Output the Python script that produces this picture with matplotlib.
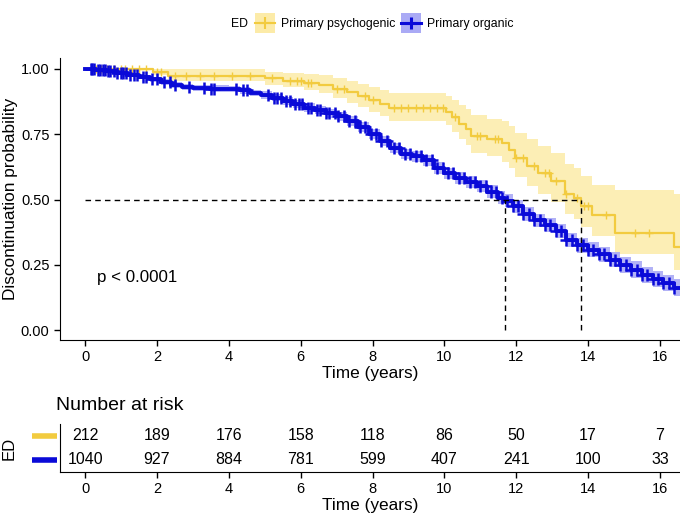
import numpy as np
import matplotlib
matplotlib.use("Agg")
import matplotlib.pyplot as plt
from matplotlib.lines import Line2D
from matplotlib.patches import Rectangle

plt.rcParams['font.family'] = ['Liberation Sans', 'DejaVu Sans']

# Primary psychogenic (yellow)
psy_t = [0, 1.9, 2.3, 5.0, 5.5, 6.1, 6.5, 6.9, 7.3, 7.6, 7.9, 8.2, 8.45, 10.05, 10.2, 10.4, 10.6,
         10.75, 11.2, 11.6, 11.8, 11.97, 12.3, 12.6, 12.96, 13.35, 13.6, 13.8, 14.1, 14.75, 16.4]
psy_s = [1.0, 0.99, 0.972, 0.965, 0.955, 0.948, 0.94, 0.925, 0.91, 0.895, 0.88, 0.865, 0.85, 0.835,
         0.815, 0.79, 0.77, 0.745, 0.73, 0.715, 0.69, 0.66, 0.63, 0.60, 0.57, 0.52, 0.505, 0.475,
         0.44, 0.37, 0.32]
psy_up = [1.0, 1.0, 1.0, 0.99, 0.985, 0.98, 0.975, 0.965, 0.955, 0.943, 0.932, 0.92, 0.908, 0.896,
          0.88, 0.862, 0.845, 0.825, 0.81, 0.80, 0.78, 0.755, 0.73, 0.705, 0.68, 0.635, 0.62, 0.59,
          0.555, 0.535, 0.52]
psy_lo = [1.0, 0.975, 0.955, 0.94, 0.93, 0.918, 0.908, 0.89, 0.87, 0.855, 0.835, 0.82, 0.8, 0.785,
          0.76, 0.73, 0.71, 0.68, 0.665, 0.645, 0.62, 0.585, 0.55, 0.52, 0.49, 0.445, 0.425, 0.395,
          0.36, 0.29, 0.23]
psy_cens = [0.3, 0.45, 0.6, 0.8, 1.0, 1.1, 1.3, 1.5, 1.7, 2.0, 2.1, 2.5, 2.8, 3.2, 3.6, 4.1, 4.6,
            5.2, 5.7, 5.9, 6.0, 6.2, 6.3, 7.0, 7.2, 7.8, 8.0, 8.6, 8.8, 9.0, 9.2, 9.4, 9.6, 9.8, 9.95,
            10.3, 10.9, 11.0, 11.4, 11.5, 12.0, 12.2, 12.5, 12.8, 12.9, 13.1, 13.4, 13.7, 13.9, 14.0,
            14.5, 15.3, 15.7]

# Primary organic (blue)
org_t = [0, 0.3, 0.6, 0.9, 1.2, 1.5, 1.8, 2.1, 2.4, 2.7, 3.0, 3.5, 4.0, 4.3, 4.6, 4.9, 5.2, 5.5,
         5.8, 6.1, 6.4, 6.7, 7.0, 7.3, 7.6, 7.9, 8.2, 8.5, 8.8, 9.1, 9.4, 9.7, 10.0, 10.3, 10.6,
         10.9, 11.2, 11.5, 11.7, 11.9, 12.2, 12.5, 12.8, 13.1, 13.4, 13.7, 14.0, 14.3, 14.6, 14.9,
         15.2, 15.5, 15.8, 16.1, 16.4]
org_s = [1.0, 0.997, 0.992, 0.986, 0.978, 0.97, 0.96, 0.95, 0.938, 0.93, 0.927, 0.925, 0.923,
         0.918, 0.908, 0.9, 0.89, 0.878, 0.865, 0.852, 0.842, 0.83, 0.818, 0.80, 0.778, 0.75,
         0.725, 0.697, 0.675, 0.665, 0.65, 0.62, 0.60, 0.583, 0.568, 0.552, 0.53, 0.506, 0.495,
         0.475, 0.445, 0.42, 0.403, 0.38, 0.345, 0.325, 0.308, 0.29, 0.27, 0.25, 0.232, 0.212, 0.196,
         0.18, 0.163]
org_hw = [0.0, 0.003, 0.005, 0.006, 0.007, 0.008, 0.009, 0.01, 0.011, 0.012, 0.012, 0.012, 0.012,
          0.013, 0.013, 0.014, 0.014, 0.015, 0.015, 0.016, 0.016, 0.017, 0.017, 0.018, 0.018, 0.019,
          0.019, 0.02, 0.02, 0.021, 0.021, 0.022, 0.022, 0.023, 0.023, 0.024, 0.024, 0.025, 0.025,
          0.025, 0.026, 0.026, 0.027, 0.027, 0.028, 0.028, 0.029, 0.029, 0.03, 0.03, 0.031, 0.031,
          0.032, 0.032, 0.033]
org_cens = [0.15, 0.2, 0.25, 0.35, 0.4, 0.5, 0.55, 0.65, 0.7, 0.8, 0.9, 1.0, 1.05, 1.15, 1.25, 1.35,
            1.45, 1.6, 1.7, 1.85, 2.0, 2.2, 2.35, 2.5, 2.9, 3.3, 3.5, 3.6, 4.2, 4.4, 4.5, 5.1, 5.25,
            5.35, 5.45, 5.6, 5.7, 5.85, 5.95, 6.05, 6.2, 6.3, 6.45, 6.55, 6.7, 6.8, 6.95, 7.05, 7.2,
            7.35, 7.5, 7.65, 7.8, 7.95, 8.1, 8.25, 8.4, 8.6, 8.75, 8.9, 9.05, 9.2, 9.35, 9.5, 9.65,
            9.8, 9.95, 10.1, 10.25, 10.4, 10.55, 10.7, 10.85, 11.0, 11.15, 11.3, 11.45, 11.6, 11.75,
            11.9, 12.05, 12.2, 12.35, 12.5, 12.65, 12.8, 12.95, 13.1, 13.25, 13.4, 13.55, 13.7,
            13.85, 14.0, 14.15, 14.3, 14.45, 14.6, 14.75, 14.9, 15.05, 15.2, 15.35, 15.5, 15.65,
            15.8, 15.95, 16.1, 16.25, 16.4]

medians = [11.7, 13.8]
risk_times = [0, 2, 4, 6, 8, 10, 12, 14, 16]
risk_psy = [212, 189, 176, 158, 118, 86, 50, 17, 7]
risk_org = [1040, 927, 884, 781, 599, 407, 241, 100, 33]

YEL = '#F2CB3F'
YEL_F = '#FCEBA8'
BLU = '#0A0AD8'
BLU_F = '#AAAAF5'

XMAX = 16.56
XMIN = -0.70


def step_val(ts, ss, x):
    idx = np.searchsorted(ts, x, side='right') - 1
    return np.asarray(ss)[idx]


fig = plt.figure(figsize=(6.8, 5.19), dpi=100)
ax = fig.add_axes([60 / 680, 1 - 340 / 519, 1 - 60 / 680, (340 - 58) / 519])

for ts, ss, lo, up, col, fcol, lw, cens in [
        (psy_t, psy_s, psy_lo, psy_up, YEL, YEL_F, 1.6, psy_cens),
        (org_t, org_s, np.array(org_s) - np.array(org_hw), np.array(org_s) + np.array(org_hw),
         BLU, BLU_F, 2.8, org_cens)]:
    tt = list(ts) + [XMAX + 0.2]
    ax.fill_between(tt, list(lo) + [lo[-1]], list(up) + [up[-1]], step='post', color=fcol,
                    lw=0, alpha=0.85 if col == YEL else 0.9)
    ax.step(tt, list(ss) + [ss[-1]], where='post', color=col, lw=lw)
    cy = step_val(ts, ss, np.array(cens))
    ax.plot(cens, cy, ls='none', marker='+', ms=6 if col == YEL else 8,
            mew=1.0 if col == YEL else 1.8, color=col)

ax.plot([0, medians[1]], [0.5, 0.5], color='black', lw=1, dashes=(4, 3))
for m in medians:
    ax.plot([m, m], [0, 0.5], color='black', lw=1, dashes=(4, 3))

ax.text(0.33, 0.2, 'p < 0.0001', fontsize=12.2, va='center', ha='left')

ax.set_xlim(XMIN, XMAX)
ax.set_ylim(-0.038, 1.042)
ax.set_xticks(risk_times)
ax.set_yticks([0, 0.25, 0.5, 0.75, 1.0])
ax.set_yticklabels(['0.00', '0.25', '0.50', '0.75', '1.00'])
ax.spines['top'].set_visible(False)
ax.spines['right'].set_visible(False)
ax.tick_params(labelsize=10.5, length=4, width=1, colors='black')
ax.set_xlabel('Time (years)', fontsize=12.4, labelpad=1)
ax.set_ylabel('Discontinuation probability', fontsize=12.4, labelpad=2)

# legend, drawn by hand in figure pixels
W, H = 680, 519
fig.text(231 / W, 1 - 24 / H, 'ED', fontsize=8.8, va='center', ha='left')
for (x0, x1, col, fcol, lw, label) in [(255, 275, YEL, YEL_F, 1.5, 'Primary psychogenic'),
                                        (401, 421, BLU, BLU_F, 2.2, 'Primary organic')]:
    fig.add_artist(Rectangle((x0 / W, 1 - 33 / H), (x1 - x0) / W, 20 / H, transform=fig.transFigure,
                             facecolor=fcol, edgecolor='none'))
    fig.add_artist(Line2D([x0 / W, x1 / W], [1 - 23 / H, 1 - 23 / H], transform=fig.transFigure,
                          color=col, lw=lw))
    fig.add_artist(Line2D([(x0 + x1) / 2 / W], [1 - 23 / H], transform=fig.transFigure,
                          color=col, marker='+', ms=9, mew=lw))
    fig.text((x1 + 6) / W, 1 - 24 / H, label, fontsize=8.8, va='center', ha='left')

# risk table
ax2 = fig.add_axes([60 / 680, 1 - 472 / 519, 1 - 60 / 680, 48 / 519])
ax2.set_xlim(XMIN, XMAX)
ax2.set_ylim(0.5, 2.5)
for t, a, b in zip(risk_times, risk_psy, risk_org):
    ax2.text(t, 2, str(a), ha='center', va='center', fontsize=11.5)
    ax2.text(t, 1, str(b), ha='center', va='center', fontsize=11.5)
trans = ax2.get_yaxis_transform()
ax2.plot([-0.045, -0.005], [2, 2], color=YEL, lw=4, transform=trans, clip_on=False,
         solid_capstyle='butt')
ax2.plot([-0.045, -0.005], [1, 1], color=BLU, lw=4, transform=trans, clip_on=False,
         solid_capstyle='butt')
ax2.set_yticks([])
ax2.set_xticks(risk_times)
ax2.spines['top'].set_visible(False)
ax2.spines['right'].set_visible(False)
ax2.tick_params(labelsize=10.5, length=4, width=1)
ax2.set_xlabel('Time (years)', fontsize=12.4, labelpad=1)
fig.text(9 / 680, 1 - 448 / 519, 'ED', rotation=90, fontsize=12, va='center', ha='center')
fig.text(56 / 680, 1 - 405 / 519, 'Number at risk', fontsize=14, va='center', ha='left')

fig.savefig('out.png', dpi=100)
